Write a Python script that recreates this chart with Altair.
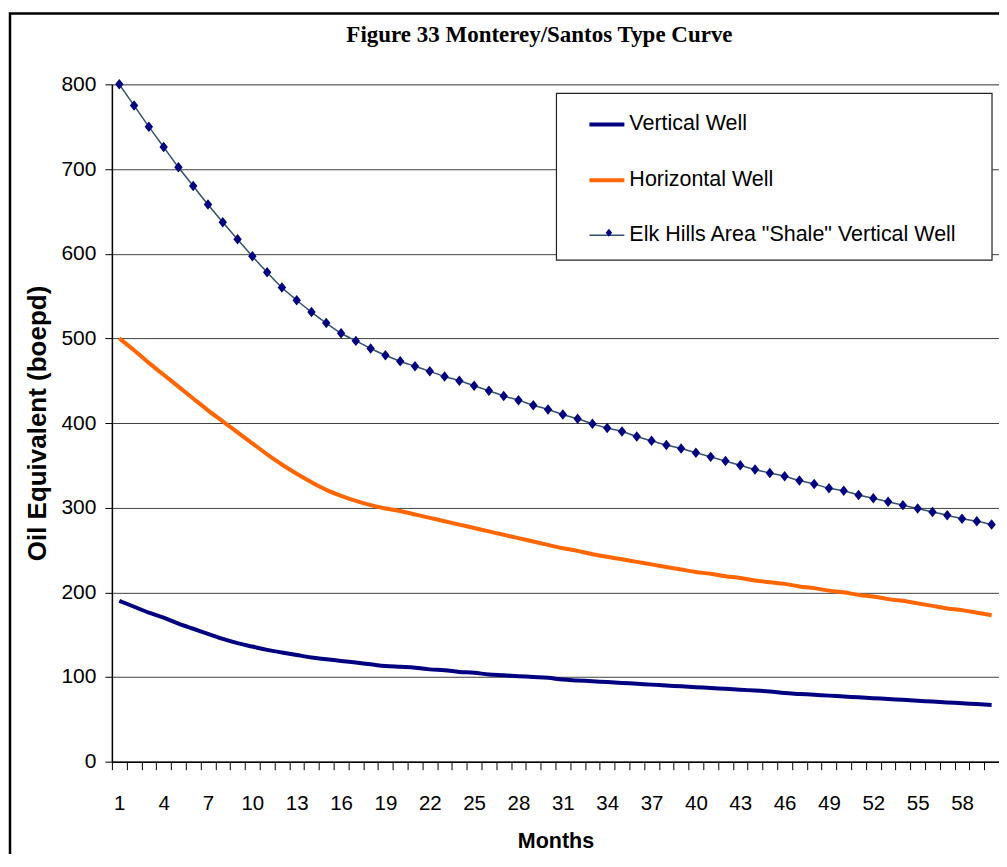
import altair as alt
import pandas as pd

# ---------------- data ----------------
months = list(range(1, 61))
series_names = ["Vertical Well", "Horizontal Well", 'Elk Hills Area "Shale" Vertical Well']
vertical = [190, 183, 176, 170, 163, 157, 151, 145, 140, 136,
            132, 129, 126, 123, 121, 119, 117, 115, 113, 112,
            111, 109, 108, 106, 105, 103, 102, 101, 100, 99,
            97, 96, 95, 94, 93, 92, 91, 90, 89, 88,
            87, 86, 85, 84, 83, 81, 80, 79, 78, 77,
            76, 75, 74, 73, 72, 71, 70, 69, 68, 67]
horizontal = [500, 486, 471, 457, 443, 429, 415, 402, 389, 376,
              363, 351, 340, 330, 321, 314, 308, 303, 299, 296,
              292, 288, 284, 280, 276, 272, 268, 264, 260, 256,
              252, 249, 245, 242, 239, 236, 233, 230, 227, 224,
              222, 219, 217, 214, 212, 210, 207, 205, 202, 200,
              197, 195, 192, 190, 187, 184, 181, 179, 176, 173]
elk = [800, 775, 750, 726, 702, 680, 658, 637, 617, 597,
       578, 560, 545, 531, 518, 506, 497, 488, 480, 473,
       467, 461, 455, 450, 444, 438, 432, 427, 421, 416,
       410, 405, 399, 394, 390, 384, 379, 374, 370, 365,
       360, 355, 350, 345, 341, 337, 332, 328, 323, 320,
       315, 311, 307, 303, 299, 295, 291, 287, 284, 280]
x_label_values = [1, 4, 7, 10, 13, 16, 19, 22, 25, 28, 31, 34, 37, 40, 43, 46, 49, 52, 55, 58]
y_tick_values = [0, 100, 200, 300, 400, 500, 600, 700, 800]

rows = []
for name, vals in zip(series_names, [vertical, horizontal, elk]):
    for m, v in zip(months, vals):
        rows.append({"month": m, "value": v, "series": name})
df = pd.DataFrame(rows)
elk_df = df[df["series"] == series_names[2]]

# ---------------- styling ----------------
W, H = 888, 678
SANS = "Liberation Sans, Arial"
line_colors = ["#000080", "#FF6600", "#34506e"]
DIAMOND = "M-0.8,0L0,-1L0.8,0L0,1Z"
boundaries = [m - 0.5 for m in months] + [months[-1] + 0.5]
label_expr = ("indexof(" + str(x_label_values) + ", datum.value + 0.5) >= 0 ? "
              "format(datum.value + 0.5, 'd') : ''")

x_scale = alt.Scale(domain=[0.5, 60.5], nice=False, zero=False)
y_scale = alt.Scale(domain=[0, 800], nice=False)

x_axis = alt.Axis(values=boundaries, tickCount=200, labelExpr=label_expr, tickSize=8,
                  tickColor="black", domainColor="black", domainWidth=1.5,
                  labelOffset=W / 60 / 2, labelPadding=24, labelFont=SANS, labelFontSize=20.5,
                  labelColor="black", labelOverlap=False, labelFlush=False, labelBaseline="top",
                  grid=False, title="Months", titleFont=SANS, titleFontSize=21.5,
                  titleFontWeight="bold", titleColor="black", titlePadding=16)
y_axis = alt.Axis(values=y_tick_values, tickSize=7, tickColor="black", labelPadding=9,
                  labelFont=SANS, labelFontSize=21, labelColor="black", grid=True,
                  gridColor="#404040", gridWidth=1, domainColor="black", domainWidth=1.5,
                  title="Oil Equivalent (boepd)", titleFont=SANS, titleFontSize=26,
                  titleFontWeight="bold", titleColor="black", titlePadding=10)

legend_kw = dict(orient="none", legendX=476, legendY=20.6, title=None, symbolType="stroke",
                 symbolSize=1225, labelFont=SANS, labelFontSize=21.5, labelColor="black",
                 labelOffset=3, rowPadding=26, padding=0, labelLimit=600)

one = pd.DataFrame({"k": [0]})

frame = alt.Chart(one).mark_rect(fillOpacity=0, stroke="black", strokeWidth=2.5, clip=False).encode(
    x=alt.value(-102), x2=alt.value(W + 80), y=alt.value(-71), y2=alt.value(H + 200))

lines = alt.Chart(df).mark_line(interpolate="monotone").encode(
    x=alt.X("month:Q", scale=x_scale, axis=x_axis),
    y=alt.Y("value:Q", scale=y_scale, axis=y_axis),
    color=alt.Color("series:N", scale=alt.Scale(domain=series_names, range=line_colors),
                    legend=alt.Legend(**legend_kw)),
    strokeWidth=alt.StrokeWidth("series:N",
                                scale=alt.Scale(type="ordinal", domain=series_names, range=[4, 4, 1.5]),
                                legend=alt.Legend(**legend_kw)),
)

points = alt.Chart(elk_df).mark_point(shape=DIAMOND, filled=True, size=110, opacity=1,
                                      clip=False).encode(
    x=alt.X("month:Q", scale=x_scale),
    y=alt.Y("value:Q", scale=y_scale),
    fill=alt.Fill("series:N", scale=alt.Scale(domain=[series_names[2]], range=["#000080"]),
                  legend=alt.Legend(orient="none", legendX=493.5, legendY=144.5, title=None,
                                    symbolType="M-0.8,0L0,-1L0.8,0L0,1Z", symbolSize=64,
                                    symbolStrokeWidth=0, labelExpr="''", labelFontSize=1,
                                    padding=0)),
)

legend_box = alt.Chart(one).mark_rect(fill="white", stroke="#222222", strokeWidth=1.2).encode(
    x=alt.value(445), x2=alt.value(881), y=alt.value(9), y2=alt.value(176))

chart = alt.layer(frame, lines, points, legend_box).properties(
    width=W, height=H,
    title=alt.TitleParams(text="Figure 33 Monterey/Santos Type Curve", font="Liberation Serif",
                          fontSize=23, fontWeight="bold", color="black", anchor="middle",
                          dx=-16, offset=-53, baseline="alphabetic"),
    autosize=alt.AutoSizeParams(type="none"),
    padding={"left": 104, "top": 76, "right": 0, "bottom": 92},
).configure_view(stroke="#999999", strokeWidth=1).configure(background="white")

chart.save("out.html", embed_options={"renderer": "svg", "actions": False})
